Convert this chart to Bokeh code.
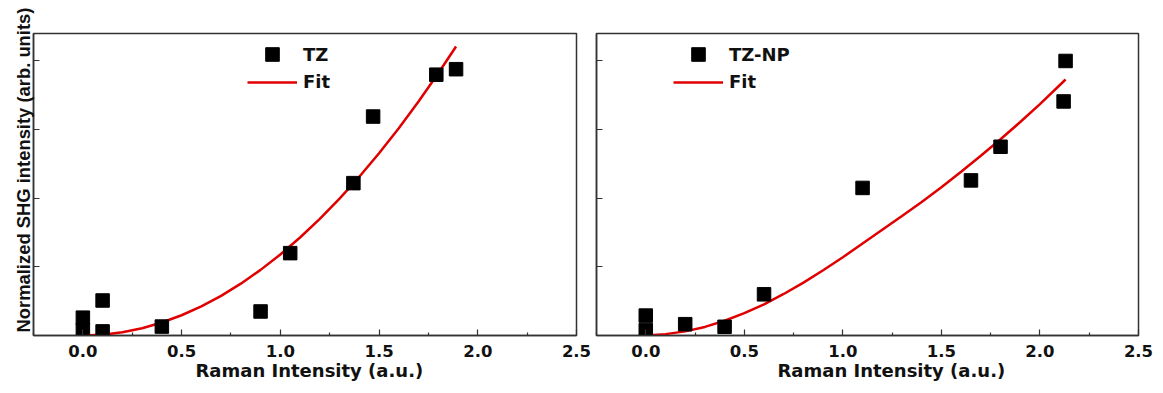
from bokeh.plotting import figure
from bokeh.layouts import row
from bokeh.models import (Range1d, FixedTicker, Legend, LegendItem, Title,
                          PrintfTickFormatter)
from bokeh.embed import file_html
from bokeh.resources import INLINE

# ---- data ----
tz_x = [0.0, 0.0, 0.1, 0.1, 0.4, 0.9, 1.05, 1.37, 1.47, 1.79, 1.89]
tz_y = [0.26, 0.08, 0.51, 0.06, 0.13, 0.35, 1.20, 2.22, 3.19, 3.80, 3.88]

tz_fit_x = [0.0, 0.1, 0.2, 0.3, 0.4, 0.5, 0.6, 0.7, 0.8, 0.9, 1.0,
            1.1, 1.2, 1.3, 1.4, 1.5, 1.6, 1.7, 1.8, 1.89]
tz_fit_y = [0.0, 0.012, 0.047, 0.106, 0.189, 0.295, 0.425, 0.578, 0.755,
            0.956, 1.18, 1.428, 1.70, 1.995, 2.313, 2.655, 3.02, 3.41,
            3.82, 4.21]

np_x = [0.0, 0.0, 0.2, 0.4, 0.6, 1.1, 1.65, 1.8, 2.12, 2.13]
np_y = [0.29, 0.08, 0.165, 0.127, 0.60, 2.15, 2.26, 2.75, 3.41, 4.00]

np_fit_x = [0.0, 0.1, 0.2, 0.3, 0.4, 0.5, 0.6, 0.7, 0.8, 0.9, 1.0,
            1.1, 1.2, 1.3, 1.4, 1.5, 1.6, 1.7, 1.8, 1.9, 2.0, 2.13]
np_fit_y = [0.0, 0.02, 0.06, 0.125, 0.215, 0.325, 0.455, 0.605, 0.77, 0.95,
            1.14, 1.34, 1.54, 1.74, 1.945, 2.16, 2.385, 2.62, 2.86, 3.11,
            3.37, 3.73]

x_major = [0.0, 0.5, 1.0, 1.5, 2.0, 2.5]
x_minor = [-0.25, 0.25, 0.75, 1.25, 1.75, 2.25]
y_major = [1, 2, 3, 4]

series_labels = ["TZ", "TZ-NP"]
fit_label = "Fit"
x_label = "Raman Intensity (a.u.)"
y_label = "Normalized SHG intensity (arb. units)"

FONT = "DejaVu Sans"
RED = "#e00000"
EDGE = "#333333"
TXT = "#111111"


def legend_box(items, loc, gh):
    return Legend(items=items, location=loc, orientation="vertical",
                  glyph_width=50, glyph_height=gh, label_height=20,
                  label_standoff=6, spacing=0, padding=0, margin=0,
                  border_line_color=None, background_fill_alpha=0,
                  label_text_font=FONT, label_text_font_style="bold",
                  label_text_font_size="18px", label_text_color=TXT)


def make_panel(fw, bl, br, sx, sy, fx, fy, name, leg_x, ylab, xlab_off):
    p = figure(frame_width=fw, frame_height=302,
               x_range=Range1d(-0.25, 2.5), y_range=Range1d(0, 4.4),
               min_border_left=bl, min_border_right=br,
               min_border_top=33, min_border_bottom=56,
               output_backend="svg", toolbar_location=None)
    p.grid.visible = False
    p.outline_line_color = EDGE
    p.outline_line_width = 1.5
    p.background_fill_color = "white"

    p.xaxis.ticker = FixedTicker(ticks=x_major, minor_ticks=x_minor)
    p.xaxis.formatter = PrintfTickFormatter(format="%.1f")
    p.yaxis.ticker = FixedTicker(ticks=y_major)
    p.yaxis.major_label_overrides = {1: "", 2: "", 3: "", 4: ""}
    for ax in (p.xaxis, p.yaxis):
        ax.axis_line_color = EDGE
        ax.axis_line_width = 1.5
        ax.major_tick_line_color = EDGE
        ax.major_tick_line_width = 1.2
        ax.minor_tick_line_color = EDGE
        ax.minor_tick_line_width = 1.2
        ax.major_tick_in = 6
        ax.major_tick_out = 0
        ax.minor_tick_in = 3
        ax.minor_tick_out = 0
    p.yaxis.minor_tick_line_color = None
    p.yaxis.major_label_standoff = 0

    p.xaxis.major_label_text_font = FONT
    p.xaxis.major_label_text_font_style = "bold"
    p.xaxis.major_label_text_font_size = "16.5px"
    p.xaxis.major_label_text_color = TXT
    p.xaxis.major_label_standoff = 9

    if ylab:
        p.add_layout(Title(text=y_label, align="left", offset=3,
                           standoff=0, text_font="Liberation Sans",
                           text_font_style="bold", text_font_size="18.4px",
                           text_color=TXT), "left")

    p.add_layout(Title(text=x_label, align="left", offset=xlab_off,
                       standoff=-3, text_font=FONT, text_font_style="bold",
                       text_font_size="18px", text_color=TXT), "below")

    fit = p.line(fx, fy, line_color=RED, line_width=2.5)
    pts = p.scatter(sx, sy, marker="square", size=13.5,
                    fill_color="black", line_color="black")

    p.add_layout(legend_box([LegendItem(label=name, renderers=[pts])],
                            (leg_x, 264), 34))
    p.add_layout(legend_box([LegendItem(label=fit_label, renderers=[fit])],
                            (leg_x, 243), 20))
    return p


p1 = make_panel(543, 33, 16, tz_x, tz_y, tz_fit_x, tz_fit_y,
                series_labels[0], 214, True, 162)
p2 = make_panel(542, 4, 16, np_x, np_y, np_fit_x, np_fit_y,
                series_labels[1], 77, False, 181)

layout = row(p1, p2)
open("out.html", "w").write(file_html(layout, INLINE))
